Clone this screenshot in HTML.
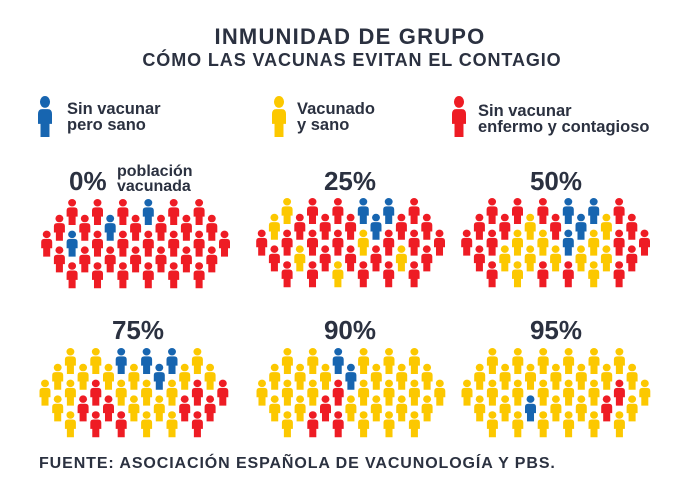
<!DOCTYPE html>
<html><head><meta charset="utf-8"><style>
body{margin:0;background:#fff;width:700px;height:497px;overflow:hidden;font-family:"Liberation Sans",sans-serif;color:#2b3140;}
.t{position:absolute;font-weight:bold;white-space:nowrap}
</style></head><body>
<div class="t" style="left:0;width:700px;text-align:center;top:24px;font-size:22px;letter-spacing:1.2px">INMUNIDAD DE GRUPO</div>
<div class="t" style="left:0;width:704px;text-align:center;top:50px;font-size:18px;letter-spacing:0.9px">CÓMO LAS VACUNAS EVITAN EL CONTAGIO</div>
<div class="t" style="left:67px;top:101px;font-size:16.5px;line-height:16px">Sin vacunar<br>pero sano</div>
<div class="t" style="left:297px;top:101px;font-size:16.5px;line-height:16px">Vacunado<br>y sano</div>
<div class="t" style="left:478px;top:103px;font-size:16.5px;line-height:16px">Sin vacunar<br>enfermo y contagioso</div>
<div class="t" style="left:69px;top:166px;font-size:26px">0%</div>
<div class="t" style="left:117px;top:164px;font-size:16px;line-height:15px">población<br>vacunada</div>
<div class="t" style="left:300px;width:100px;text-align:center;top:166px;font-size:26px">25%</div>
<div class="t" style="left:506px;width:100px;text-align:center;top:166px;font-size:26px">50%</div>
<div class="t" style="left:88px;width:100px;text-align:center;top:315px;font-size:26px">75%</div>
<div class="t" style="left:300px;width:100px;text-align:center;top:315px;font-size:26px">90%</div>
<div class="t" style="left:506px;width:100px;text-align:center;top:315px;font-size:26px">95%</div>
<div class="t" style="left:39px;top:455px;font-size:16px;letter-spacing:0.9px">FUENTE: ASOCIACIÓN ESPAÑOLA DE VACUNOLOGÍA Y PBS.</div>
<svg id="s" width="700" height="497" style="position:absolute;left:0;top:0" xmlns="http://www.w3.org/2000/svg">
<defs>
<symbol id="p" viewBox="0 0 10 25" preserveAspectRatio="none" overflow="visible">
<circle cx="5" cy="3.6" r="3.6"/>
<path d="M0 11 Q0 8 3 8 L7 8 Q10 8 10 11 L10 17 L8.2 17 L8.2 25 L1.8 25 L1.8 17 L0 17 Z"/>
</symbol>
</defs>
<use href="#p" x="38" y="96" width="14" height="41" fill="#1765b0"/>
<use href="#p" x="272" y="96" width="14" height="41" fill="#fcc800"/>
<use href="#p" x="452" y="96" width="14" height="41" fill="#ee1c24"/>
</svg>
<script>
var C={R:"#ee1c24",Y:"#fcc800",B:"#1765b0"};
var rowCols=[[2,4,6,8,10,12],[1,3,5,7,9,11,13],[0,2,4,6,8,10,12,14],[1,3,5,7,9,11,13],[2,4,6,8,10,12]];
var panels=[
[46.7,199,["RRRBRR","RRBRRRR","RBRRRRRR","RRRRRRR","RRRRRR"]],
[261.7,198,["YRRBBR","YRRRBRR","RRRRYRRR","RYRRRYR","RRYRRR"]],
[466.7,198,["RRRBBR","RRYRBYR","RRYYBYRR","RYYYYYR","RYRRYR"]],
[45,348,["YYBBBY","YYYYBYY","YYRYYYRR","YRRYYRR","YRRYYR"]],
[262,348,["YYBYYY","YYYBYYY","YYYRYYYY","YYRYYYY","YRRYYY"]],
[467,348,["YYYYYY","YYYYYYY","YYYYYYRY","YYBYYRY","YYYYYY"]]];
var s=document.getElementById("s"),h="";
panels.forEach(function(p){for(var r=0;r<5;r++){rowCols[r].forEach(function(c,i){
var x=p[0]+c*12.7-5.5,y=p[1]+r*15.8;
h+='<use href="#p" x="'+x.toFixed(1)+'" y="'+y.toFixed(1)+'" width="11" height="26" fill="'+C[p[2][r][i]]+'"/>';});}});
s.insertAdjacentHTML("beforeend",h);
</script>
</body></html>
